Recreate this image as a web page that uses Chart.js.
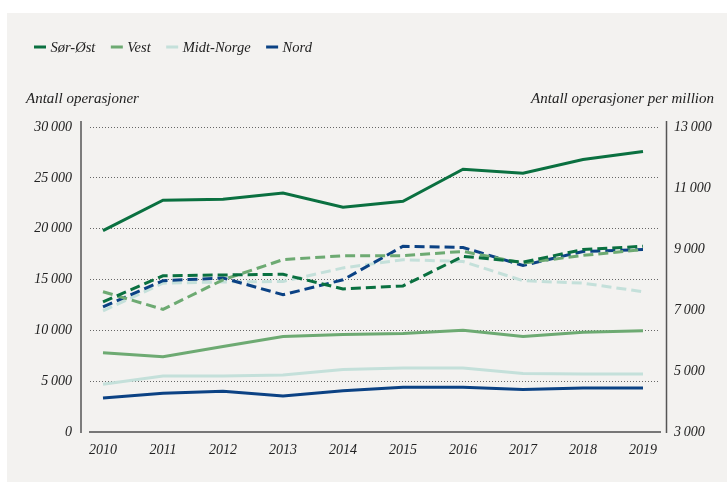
<!DOCTYPE html>
<html>
<head>
<meta charset="utf-8">
<script src="https://cdn.jsdelivr.net/npm/chart.js@4.4.1/dist/chart.umd.min.js"></script>
<style>
  body { margin: 0; background: #fff; }
  #wrap { position: relative; width: 727px; height: 482px; }
  #panel { position: absolute; left: 7px; top: 13px; right: 0; bottom: 0; background: #f3f2f0; }
  #opsChart { position: absolute; left: 0; top: 0; }
</style>
</head>
<body>
<div id="wrap">
  <div id="panel"></div>
  <canvas id="opsChart" width="727" height="482"></canvas>
</div>
<script>
// data
const years = [2010, 2011, 2012, 2013, 2014, 2015, 2016, 2017, 2018, 2019];

// antall operasjoner (left axis, solid lines)
const sorOst    = [19800, 22800, 22900, 23500, 22100, 22700, 25850, 25450, 26800, 27600];
const vest      = [7800, 7400, 8400, 9400, 9600, 9700, 10000, 9400, 9800, 9950];
const midtNorge = [4700, 5500, 5500, 5600, 6150, 6300, 6300, 5750, 5700, 5700];
const nord      = [3350, 3800, 4000, 3550, 4050, 4400, 4400, 4180, 4320, 4340];

// antall operasjoner per million (right axis, dashed lines)
const sorOstPM    = [7270, 8120, 8150, 8170, 7690, 7790, 8760, 8570, 8980, 9090];
const vestPM      = [7600, 7020, 7990, 8650, 8780, 8780, 8920, 8540, 8790, 8980];
const midtNorgePM = [6970, 7880, 7920, 7935, 8380, 8650, 8590, 7960, 7880, 7600];
const nordPM      = [7100, 7960, 8050, 7500, 7990, 9090, 9050, 8460, 8920, 8980];

const leftTicks  = [0, 5000, 10000, 15000, 20000, 25000, 30000];
const rightTicks = [3000, 5000, 7000, 9000, 11000, 13000];

const colors = {
    sorOst: '#0a7040',
    vest: '#6daa72',
    midt: '#c4e0da',
    nord: '#0b4284'
};

const font = 'Liberation Serif';
const fmt = v => String(v).replace(/\B(?=(\d{3})+(?!\d))/g, '\u2009');

function line(label, data, color, axis, dashed) {
    return {
        label: label,
        data: data,
        yAxisID: axis,
        borderColor: color,
        backgroundColor: color,
        borderWidth: 3,
        borderDash: dashed ? [10, 5] : [],
        pointRadius: 0,
        tension: 0,
        fill: false,
        legend: !dashed
    };
}

// legend, axis titles and the detached axis lines
const decor = {
    id: 'decor',
    afterDraw(chart) {
        const { ctx, chartArea, scales } = chart;
        ctx.save();

        ctx.strokeStyle = '#555';
        ctx.lineWidth = 1.5;
        ctx.beginPath();
        ctx.moveTo(chartArea.left - 9, chartArea.top - 6);
        ctx.lineTo(chartArea.left - 9, chartArea.bottom + 1);
        ctx.moveTo(chartArea.right + 6.5, chartArea.top - 6);
        ctx.lineTo(chartArea.right + 6.5, chartArea.bottom + 1);
        ctx.stroke();

        ctx.fillStyle = '#222';
        ctx.font = 'italic 15px "' + font + '"';
        ctx.textBaseline = 'alphabetic';
        ctx.textAlign = 'left';
        ctx.fillText(scales.y.options.title.text, 26, 103);
        ctx.textAlign = 'right';
        ctx.fillText(scales.y2.options.title.text, 714, 103);

        ctx.font = 'italic 14.5px "' + font + '"';
        ctx.textAlign = 'left';
        ctx.textBaseline = 'middle';
        let x = 34;
        chart.data.datasets.filter(d => d.legend).forEach(d => {
            ctx.fillStyle = d.borderColor;
            ctx.fillRect(x, 45.5, 12, 3);
            x += 16.5;
            ctx.fillStyle = '#222';
            ctx.fillText(d.label, x, 48);
            x += ctx.measureText(d.label).width + 15.5;
        });
        ctx.restore();
    }
};

const ctx = document.getElementById('opsChart').getContext('2d');

const opsChart = new Chart(ctx, {
    type: 'line',
    data: {
        labels: years,
        datasets: [
            line('Sør-Øst', sorOst, colors.sorOst, 'y', false),
            line('Vest', vest, colors.vest, 'y', false),
            line('Midt-Norge', midtNorge, colors.midt, 'y', false),
            line('Nord', nord, colors.nord, 'y', false),
            line('Sør-Øst per million', sorOstPM, colors.sorOst, 'y2', true),
            line('Vest per million', vestPM, colors.vest, 'y2', true),
            line('Nord per million', nordPM, colors.nord, 'y2', true),
            line('Midt-Norge per million', midtNorgePM, colors.midt, 'y2', true)
        ]
    },
    plugins: [decor],
    options: {
        responsive: false,
        animation: false,
        layout: { padding: { top: 127, bottom: 0, left: 0, right: 0 } },
        plugins: {
            legend: { display: false },
            tooltip: { enabled: false }
        },
        scales: {
            x: {
                type: 'linear',
                min: 2010 - 13 / 60,
                max: 2019 + 17 / 60,
                afterBuildTicks: s => { s.ticks = years.map(v => ({ value: v })); },
                afterFit: s => { s.height = 50; },
                grid: { display: false, drawTicks: false },
                border: { display: true, color: '#777', width: 2 },
                ticks: {
                    padding: 10,
                    color: '#222',
                    font: { family: font, style: 'italic', size: 14 },
                    callback: v => String(v)
                }
            },
            y: {
                position: 'left',
                min: 0,
                max: 30000,
                title: { display: false, text: 'Antall operasjoner' },
                afterBuildTicks: s => { s.ticks = leftTicks.map(v => ({ value: v })); },
                afterFit: s => { s.width = 90; },
                grid: {
                    drawTicks: false,
                    lineWidth: 1,
                    color: c => c.tick && c.tick.value === 0 ? 'rgba(0,0,0,0)' : '#666'
                },
                border: { display: false, dash: [1, 2] },
                ticks: {
                    padding: 18,
                    color: '#222',
                    font: { family: font, style: 'italic', size: 14 },
                    callback: v => fmt(v)
                }
            },
            y2: {
                position: 'right',
                min: 3000,
                max: 13000,
                title: { display: false, text: 'Antall operasjoner per million' },
                afterBuildTicks: s => { s.ticks = rightTicks.map(v => ({ value: v })); },
                afterFit: s => { s.width = 67; },
                grid: { display: false, drawTicks: false },
                border: { display: false },
                ticks: {
                    padding: 14,
                    color: '#222',
                    font: { family: font, style: 'italic', size: 14 },
                    callback: v => fmt(v)
                }
            }
        }
    }
});
</script>
</body>
</html>
